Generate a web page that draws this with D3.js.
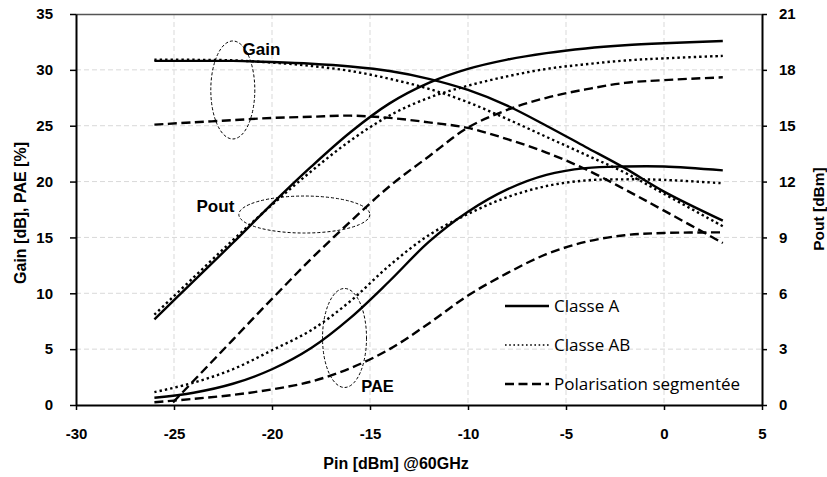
<!DOCTYPE html>
<html>
<head>
<meta charset="utf-8">
<script src="https://cdn.jsdelivr.net/npm/d3@7"></script>
<style>
  html, body { margin: 0; padding: 0; background: #fff; }
  svg { display: block; }
</style>
</head>
<body>
<svg id="chart" width="827" height="477"></svg>
<script>
// ---- data ----
const pin     = [-26, -24, -22, -20, -18, -16, -14, -12, -10, -8, -6, -4, -2, 0, 3];
const gainA   = [30.8, 30.8, 30.8, 30.7, 30.55, 30.3, 29.9, 29.2, 28.2, 26.8, 25.0, 23.1, 21.2, 19.1, 16.5];
const gainAB  = [30.9, 30.9, 30.85, 30.65, 30.35, 29.9, 29.2, 28.3, 27.1, 25.6, 24.0, 22.4, 20.8, 18.9, 16.0];
const gainP   = [25.1, 25.3, 25.5, 25.7, 25.8, 25.9, 25.7, 25.3, 24.8, 23.8, 22.6, 21.1, 19.3, 17.4, 14.5];
const poutA   = [4.6, 6.65, 8.7, 10.8, 12.8, 14.65, 16.2, 17.3, 18.05, 18.55, 18.9, 19.15, 19.32, 19.43, 19.55];
const poutAB  = [4.85, 6.85, 8.85, 10.75, 12.55, 14.2, 15.55, 16.5, 17.15, 17.65, 18.05, 18.3, 18.5, 18.62, 18.75];
const poutP   = [-0.9, 1.3, 3.5, 5.7, 7.85, 9.85, 11.75, 13.35, 14.9, 15.85, 16.5, 16.95, 17.3, 17.45, 17.6];
const paeA    = [0.65, 1.1, 1.9, 3.2, 5.1, 7.8, 11.1, 14.6, 17.3, 19.3, 20.6, 21.2, 21.35, 21.35, 21.0];
const paeAB   = [1.15, 2.0, 3.2, 4.9, 6.7, 9.3, 12.5, 15.2, 17.1, 18.6, 19.6, 20.1, 20.2, 20.15, 19.85];
const paeP    = [0.25, 0.55, 0.9, 1.4, 2.1, 3.3, 5.0, 7.3, 9.8, 11.8, 13.5, 14.6, 15.2, 15.4, 15.45];

const xTicks      = [-30, -25, -20, -15, -10, -5, 0, 5];
const yLeftTicks  = [0, 5, 10, 15, 20, 25, 30, 35];
const yRightTicks = [0, 3, 6, 9, 12, 15, 18, 21];

const legendNames = ["Classe A", "Classe AB", "Polarisation segmentée"];
const xTitle = "Pin [dBm] @60GHz";
const yLeftTitle = "Gain [dB], PAE [%]";
const yRightTitle = "Pout [dBm]";

// ---- layout ----
const L = 76, R = 762, T = 14, B = 405;
const svg = d3.select("#chart");
const x  = d3.scaleLinear().domain([-30, 5]).range([L, R]);
const yL = d3.scaleLinear().domain([0, 35]).range([B, T]);
const yR = d3.scaleLinear().domain([0, 21]).range([B, T]);

const styles = {
  A:  { dash: null,     width: 2.4 },
  AB: { dash: "2.4,3",  width: 2.4 },
  P:  { dash: "9,4.5",  width: 2.4 }
};

svg.append("defs").append("clipPath").attr("id", "plotclip")
  .append("rect").attr("x", L).attr("y", T).attr("width", R - L).attr("height", B - T);

// grid
const grid = svg.append("g");
grid.selectAll("line.h").data(yLeftTicks.filter(v => v > 0 && v < 35)).join("line")
  .attr("x1", L).attr("x2", R).attr("y1", d => yL(d)).attr("y2", d => yL(d))
  .attr("stroke", "#d9d9d9").attr("stroke-width", 1).attr("stroke-dasharray", "5,3");
grid.selectAll("line.v").data(xTicks.filter(v => v > -30 && v < 5)).join("line")
  .attr("x1", d => x(d)).attr("x2", d => x(d)).attr("y1", T).attr("y2", B)
  .attr("stroke", "#d9d9d9").attr("stroke-width", 1).attr("stroke-dasharray", "5,3");
// top border
svg.append("line").attr("x1", L).attr("x2", R).attr("y1", T + 0.5).attr("y2", T + 0.5)
  .attr("stroke", "#555").attr("stroke-width", 1.5);

// axes
const tickFont = "Liberation Sans, Arial, sans-serif";
const fmt = d => String(d);
function styleAxis(g) {
  g.select(".domain").attr("stroke", "#000").attr("stroke-width", 2);
  g.selectAll(".tick line").attr("stroke", "#000").attr("stroke-width", 1.5);
  g.selectAll(".tick text").attr("font-family", tickFont).attr("font-weight", "bold")
    .attr("font-size", 15).attr("fill", "#000");
}
svg.append("g").attr("transform", `translate(0,${B})`)
  .call(d3.axisBottom(x).tickValues(xTicks).tickSize(5).tickSizeOuter(0).tickPadding(18).tickFormat(fmt))
  .call(styleAxis);
svg.append("g").attr("transform", `translate(${L},0)`)
  .call(d3.axisLeft(yL).tickValues(yLeftTicks).tickSize(6).tickSizeOuter(0).tickPadding(17).tickFormat(fmt))
  .call(styleAxis);
svg.append("g").attr("transform", `translate(${R},0)`)
  .call(d3.axisRight(yR).tickValues(yRightTicks).tickSize(5).tickSizeOuter(0).tickPadding(12).tickFormat(fmt))
  .call(styleAxis);

// series
const plot = svg.append("g").attr("clip-path", "url(#plotclip)");
const curve = d3.curveCatmullRom.alpha(0.5);
const lineL = d3.line().x((d, i) => x(pin[i])).y(d => yL(d)).curve(curve);
const lineR = d3.line().x((d, i) => x(pin[i])).y(d => yR(d)).curve(curve);
const series = [
  { v: gainA, s: "A", ax: "L" }, { v: gainAB, s: "AB", ax: "L" }, { v: gainP, s: "P", ax: "L" },
  { v: paeA, s: "A", ax: "L" }, { v: paeAB, s: "AB", ax: "L" }, { v: paeP, s: "P", ax: "L" },
  { v: poutA, s: "A", ax: "R" }, { v: poutAB, s: "AB", ax: "R" }, { v: poutP, s: "P", ax: "R" }
];
series.forEach(sr => {
  plot.append("path").attr("d", (sr.ax === "L" ? lineL : lineR)(sr.v))
    .attr("fill", "none").attr("stroke", "#000")
    .attr("stroke-width", styles[sr.s].width)
    .attr("stroke-dasharray", styles[sr.s].dash);
});

// annotations (ellipses + labels)
const ann = svg.append("g");
const ell = [
  { cx: x(-22.0), cy: yL(28.2), rx: 22, ry: 49 },
  { cx: x(-18.35), cy: yL(17.05), rx: 65.5, ry: 18.5 },
  { cx: x(-16.3), cy: yL(6.0), rx: 22, ry: 49.5 }
];
ann.selectAll("ellipse").data(ell).join("ellipse")
  .attr("cx", d => d.cx).attr("cy", d => d.cy).attr("rx", d => d.rx).attr("ry", d => d.ry)
  .attr("fill", "none").attr("stroke", "#000").attr("stroke-width", 1).attr("stroke-dasharray", "3,2");
const labels = [
  { t: "Gain", x: x(-21.5), y: yL(31.35), size: 17 },
  { t: "Pout", x: x(-23.85), y: yL(17.3), size: 17 },
  { t: "PAE",  x: x(-15.45), y: yL(1.15), size: 16.5 }
];
ann.selectAll("text").data(labels).join("text")
  .attr("x", d => d.x).attr("y", d => d.y).text(d => d.t)
  .attr("font-family", tickFont).attr("font-weight", "bold").attr("font-size", d => d.size);

// legend
const leg = svg.append("g");
const legKeys = ["A", "AB", "P"];
legKeys.forEach((k, i) => {
  const yy = 306 + i * 39;
  leg.append("line").attr("x1", 505).attr("x2", 549).attr("y1", yy).attr("y2", yy)
    .attr("stroke", "#000").attr("stroke-width", k === "AB" ? 1.6 : 2.4)
    .attr("stroke-dasharray", k === "AB" ? "1.6,2.6" : styles[k].dash);
  leg.append("text").attr("x", 554).attr("y", yy).attr("dy", "0.36em")
    .attr("font-family", "Open Sans, sans-serif").attr("font-size", 17).text(legendNames[i]);
});

// axis titles
svg.append("text").attr("x", 396).attr("y", 469).attr("text-anchor", "middle")
  .attr("font-family", tickFont).attr("font-weight", "bold").attr("font-size", 16).text(xTitle);
svg.append("text").attr("transform", "translate(26,213) rotate(-90)").attr("text-anchor", "middle")
  .attr("font-family", tickFont).attr("font-weight", "bold").attr("font-size", 16).text(yLeftTitle);
svg.append("text").attr("transform", "translate(824,209) rotate(-90)").attr("text-anchor", "middle")
  .attr("font-family", tickFont).attr("font-weight", "bold").attr("font-size", 15.5).text(yRightTitle);
</script>
</body>
</html>
